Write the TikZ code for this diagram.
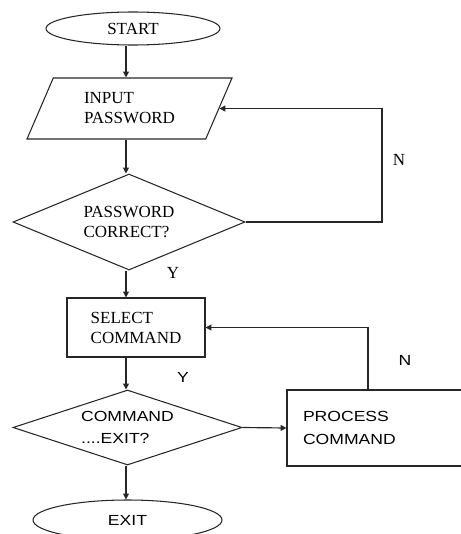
\documentclass[tikz,border=0pt]{standalone}
\usepackage{fontspec}
\setmainfont{Liberation Serif}
\newfontfamily\flowsans[FakeStretch=1.2]{Liberation Sans}
\usetikzlibrary{shapes.geometric,arrows.meta,calc}
\newcommand{\pxu}{0.03cm}
\tikzstyle{flowline} = [line width=1pt, draw=black!85]
\tikzstyle{arr} = [flowline, -{Triangle[length=5pt,width=5pt]}]
\tikzstyle{terminal} = [ellipse, draw=black!85, line width=0.9pt, inner sep=0pt]
\tikzstyle{iobox} = [trapezium, trapezium left angle=50, trapezium right angle=130,
trapezium stretches body, draw=black!85, line width=0.9pt, inner sep=0pt, align=left]
\tikzstyle{decision} = [diamond, aspect=2.4, draw=black!85, line width=0.9pt,
inner sep=0pt, align=left]
\tikzstyle{procbox} = [rectangle, draw=black!85, line width=0.9pt, align=left]
\tikzstyle{seriftext} = [font=\fontsize{14.5}{17}\selectfont]
\tikzstyle{sanstext} = [font=\flowsans\fontsize{12.5}{19}\selectfont]

\begin{document}
\begin{tikzpicture}[x=\pxu, y=-\pxu]
        \useasboundingbox (0,0) rectangle (461,534);
        \clip (0,0) rectangle (461,534);
        \coordinate (axis) at (126,0);
        \node [terminal, seriftext, minimum width=174*\pxu, minimum height=33*\pxu] (start) at (133,28.5) {START};
        \node [iobox, seriftext, minimum width=205*\pxu, minimum height=61*\pxu] (input) at (129.5,108.5) {INPUT\\PASSWORD};
        \node [decision, seriftext, minimum width=232*\pxu, minimum height=96*\pxu] (pwcheck) at (129,222) {PASSWORD\\CORRECT?};
        \node [procbox, seriftext, minimum width=138*\pxu, minimum height=59*\pxu] (select) at (136,327.5) {SELECT\\COMMAND};
        \node [decision, sanstext, minimum width=229*\pxu, minimum height=75*\pxu] (cmdcheck) at (127.5,427.5) {COMMAND\\....EXIT?};
        \node [procbox, sanstext, minimum width=190*\pxu, minimum height=76*\pxu,
            text width=158*\pxu, inner xsep=16*\pxu] (process) at (382,428) {PROCESS\\COMMAND};
        \node [terminal, sanstext, minimum width=189*\pxu, minimum height=40*\pxu] (exit) at (127.5,520) {EXIT};
        \draw [arr] (start.south -| axis) -- (input.north -| axis);
        \draw [arr] (input.south -| axis) -- (pwcheck.north -| axis);
        \draw [arr] (pwcheck.south -| axis) -- (select.north -| axis);
        \draw [arr] (select.south -| axis) -- (cmdcheck.north -| axis);
        \draw [arr] (cmdcheck.south -| axis) -- (exit.north -| axis);
        \draw [arr] (cmdcheck.east) -- (process.west);
        \coordinate (pwreturn) at (382,108);
        \draw [arr] (pwcheck.east) -| (pwreturn |- input.east) -- (input.east);
        \coordinate (cmdreturn) at (368,329);
        \draw [arr] (process.north -| cmdreturn) -- (cmdreturn |- select.east) -- (select.east);
        \node [seriftext] (pwno) at (399,160) {N};
        \node [seriftext] (pwyes) at (173,273) {Y};
        \node [sanstext] (cmdyes) at (183,377) {Y};
        \node [sanstext] (cmdno) at (405,360) {N};
    \end{tikzpicture}
\end{document}
